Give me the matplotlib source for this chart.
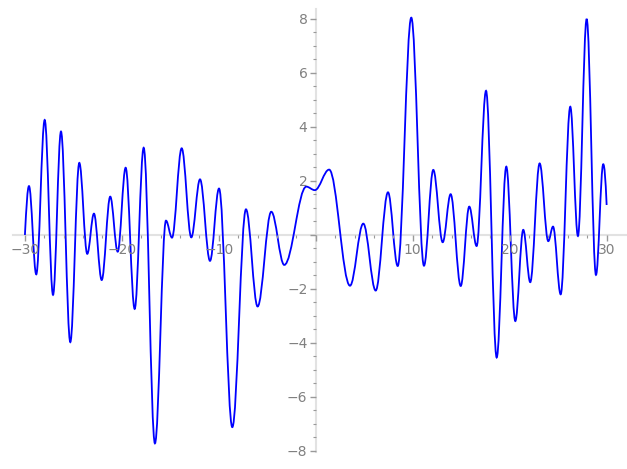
import matplotlib
matplotlib.use("Agg")
import matplotlib.pyplot as plt
from matplotlib.path import Path
from matplotlib.patches import PathPatch
from matplotlib.ticker import MultipleLocator, FixedLocator, FuncFormatter

# Key points: endpoints and every local extremum (x, y)
x_pts = [-30, -29.58, -28.83, -27.96, -27.1, -26.28, -25.32, -24.39, -23.57, -22.88,
         -22.08, -21.2, -20.43, -19.61, -18.68, -17.75, -16.59, -15.45, -14.83, -13.83,
         -12.84, -11.94, -10.91, -9.98, -8.61, -7.2, -6.0, -4.59, -3.25, -0.98,
         -0.1, 1.38, 3.53, 4.9, 6.18, 7.45, 8.45, 9.85, 11.16, 12.12,
         13.09, 13.91, 14.95, 15.83, 16.59, 17.56, 18.66, 19.65, 20.58, 21.4,
         22.12, 23.09, 23.98, 24.47, 25.26, 26.25, 27.04, 27.94, 28.9, 29.65, 30]
y_pts = [0.0, 1.81, -1.46, 4.26, -2.22, 3.83, -3.97, 2.67, -0.70, 0.79,
         -1.67, 1.42, -0.62, 2.49, -2.74, 3.23, -7.72, 0.53, -0.10, 3.21,
         -0.09, 2.06, -0.96, 1.72, -7.12, 0.95, -2.65, 0.86, -1.11, 1.79,
         1.66, 2.42, -1.88, 0.42, -2.06, 1.58, -1.15, 8.05, -1.14, 2.41,
         -0.27, 1.51, -1.89, 1.05, -0.41, 5.34, -4.54, 2.53, -3.19, 0.19,
         -1.75, 2.65, -0.23, 0.31, -2.2, 4.75, -0.04, 8.0, -1.48, 2.62, 1.11]
# slope of the curve at the two endpoints (interior points are extrema, slope 0)
start_slope = 6.8
end_slope = -8.0

x_major = [-30, -20, -10, 0, 10, 20, 30]
x_minor = list(range(-30, 31, 2))
y_major = [-8, -6, -4, -2, 0, 2, 4, 6, 8]

W, H = 627, 469
fig = plt.figure(figsize=(W / 100, H / 100), dpi=100)
ax = fig.add_axes([12.7 / W, (H - 452) / H, (627 - 12.7) / W, (452 - 9) / H])

# smooth path through the read points (horizontal tangents at extrema)
slopes = [start_slope] + [0.0] * (len(x_pts) - 2) + [end_slope]
k = 0.363
verts = [(x_pts[0], y_pts[0])]
codes = [Path.MOVETO]
for i in range(len(x_pts) - 1):
    x0, y0, x1, y1 = x_pts[i], y_pts[i], x_pts[i + 1], y_pts[i + 1]
    h = x1 - x0
    verts += [(x0 + k * h, y0 + k * h * slopes[i]),
              (x1 - k * h, y1 - k * h * slopes[i + 1]),
              (x1, y1)]
    codes += [Path.CURVE4] * 3
ax.add_patch(PathPatch(Path(verts, codes), fill=False, edgecolor="blue",
                       lw=1.3, transform=ax.transData, capstyle="butt"))

ax.set_xlim(-31.26, 32.1)
ax.set_ylim(-8.04, 8.37)

for s in ("top", "right"):
    ax.spines[s].set_visible(False)
for s in ("left", "bottom"):
    ax.spines[s].set_position(("data", 0))
    ax.spines[s].set_color("#e2e2e2")
    ax.spines[s].set_linewidth(1.5)
    ax.spines[s].set_zorder(0)

ax.set_xticks(x_major)
ax.set_yticks(y_major)
fmt = FuncFormatter(lambda v, p: "" if abs(v) < 1e-9 else f"{v:g}".replace("-", "\u2212"))
ax.xaxis.set_major_formatter(fmt)
ax.yaxis.set_major_formatter(fmt)
ax.xaxis.set_minor_locator(FixedLocator(x_minor))
ax.yaxis.set_minor_locator(MultipleLocator(0.5))
ax.tick_params(which="major", direction="out", length=4, width=1, color="#999999",
               labelcolor="#808080", labelsize=10, pad=2)
ax.tick_params(which="minor", direction="out", length=2, width=0.8, color="#999999")
ax.patch.set_alpha(0)

fig.savefig("out.png", dpi=100)
